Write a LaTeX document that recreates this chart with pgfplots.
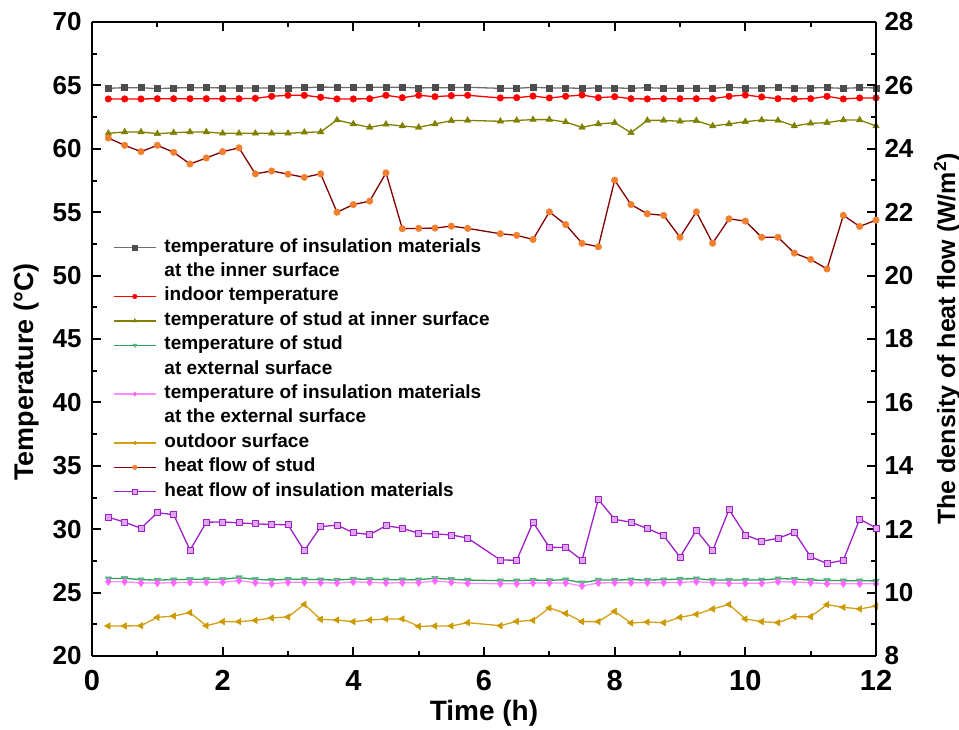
\documentclass[border=0pt]{standalone}
\usepackage{fontspec}
\setmainfont{Liberation Sans}
\usepackage{pgfplots}
\pgfplotsset{compat=1.18}
\usepackage{pgfplotstable}

\definecolor{cGrayL}{HTML}{6E6E6E}
\definecolor{cGrayM}{HTML}{4D4D4D}
\definecolor{cRed}{HTML}{FF0000}
\definecolor{cOlive}{HTML}{808000}
\definecolor{cGreenL}{HTML}{2CA05A}
\definecolor{cGreenM}{HTML}{4DB87A}
\definecolor{cPinkL}{HTML}{FF8CFF}
\definecolor{cPinkM}{HTML}{FF66FF}
\definecolor{cGold}{HTML}{D4A017}
\definecolor{cGoldM}{HTML}{CC9900}
\definecolor{cMaroon}{HTML}{800000}
\definecolor{cOrange}{HTML}{F08030}
\definecolor{cPurple}{HTML}{A020C8}
\definecolor{cPurpleF}{HTML}{DDA8F0}

% t: time (h); temperatures in degC; heat flows in W/m^2
\pgfplotstableread{
t     insin  indoor studin studex insex  outdoor qstud  qins
0.25  64.77  63.93  61.22  26.10  25.86  22.37   24.34  12.38
0.50  64.82  63.93  61.33  26.13  25.86  22.37   24.11  12.22
0.75  64.82  63.93  61.33  26.02  25.76  22.39   23.91  12.03
1.00  64.74  63.95  61.19  25.99  25.76  23.05   24.11  12.52
1.25  64.80  63.95  61.27  26.02  25.78  23.15   23.89  12.46
1.50  64.82  63.95  61.33  26.05  25.81  23.42   23.52  11.34
1.75  64.82  63.95  61.33  26.05  25.81  22.39   23.71  12.22
2.00  64.80  63.95  61.22  26.05  25.81  22.71   23.91  12.23
2.25  64.80  63.95  61.22  26.18  25.94  22.71   24.03  12.20
2.50  64.80  63.98  61.22  26.05  25.78  22.81   23.21  12.17
2.75  64.80  64.14  61.22  25.99  25.70  23.00   23.30  12.15
3.00  64.80  64.22  61.22  26.05  25.81  23.08   23.20  12.14
3.25  64.82  64.22  61.30  26.05  25.81  24.07   23.10  11.32
3.50  64.87  64.06  61.33  26.02  25.78  22.89   23.21  12.08
3.75  64.85  63.93  62.27  25.99  25.76  22.84   22.00  12.13
4.00  64.82  63.93  61.96  26.07  25.84  22.71   22.24  11.89
4.25  64.85  63.95  61.69  26.05  25.81  22.84   22.35  11.83
4.50  64.85  64.22  61.93  26.02  25.76  22.92   23.24  12.11
4.75  64.85  64.03  61.80  26.02  25.78  22.92   21.48  12.03
5.00  64.80  64.22  61.69  26.02  25.78  22.34   21.49  11.87
5.25  64.82  64.11  61.96  26.13  25.92  22.37   21.50  11.85
5.50  64.82  64.19  62.22  26.05  25.81  22.37   21.56  11.82
5.75  64.85  64.22  62.24  25.99  25.73  22.63   21.49  11.72
6.25  64.77  64.01  62.17  25.94  25.70  22.39   21.32  11.03
6.50  64.77  64.03  62.24  25.94  25.70  22.73   21.27  11.02
6.75  64.85  64.16  62.30  25.99  25.76  22.81   21.14  12.22
7.00  64.80  64.01  62.30  25.97  25.76  23.79   22.01  11.43
7.25  64.80  64.14  62.11  26.02  25.76  23.36   21.61  11.42
7.50  64.77  64.24  61.69  25.78  25.52  22.71   21.02  11.02
7.75  64.80  64.03  61.96  25.99  25.76  22.71   20.91  12.94
8.00  64.80  64.11  62.06  25.99  25.78  23.52   23.01  12.31
8.25  64.77  63.95  61.27  26.02  25.78  22.60   22.24  12.22
8.50  64.82  63.93  62.24  25.99  25.78  22.68   21.95  12.02
8.75  64.77  63.95  62.24  26.02  25.78  22.63   21.90  11.80
9.00  64.77  63.95  62.17  26.07  25.81  23.05   21.21  11.12
9.25  64.77  63.95  62.22  26.10  25.86  23.29   22.01  11.97
9.50  64.77  63.95  61.80  25.99  25.78  23.71   21.02  11.32
9.75  64.85  64.14  61.96  25.99  25.73  24.07   21.79  12.62
10.00 64.80  64.24  62.14  25.99  25.73  22.92   21.72  11.82
10.25 64.80  64.09  62.27  25.99  25.73  22.71   21.21  11.62
10.50 64.82  63.95  62.24  26.10  25.86  22.63   21.21  11.71
10.75 64.80  63.93  61.80  26.07  25.84  23.10   20.71  11.91
11.00 64.80  63.95  62.01  25.99  25.78  23.10   20.51  11.13
11.25 64.82  64.14  62.06  25.97  25.70  24.05   20.21  10.92
11.50 64.77  63.93  62.27  25.94  25.70  23.84   21.90  11.02
11.75 64.82  64.01  62.27  25.94  25.70  23.71   21.55  12.32
12.00 64.80  64.01  61.80  25.92  25.70  23.94   21.75  12.04
}\datatable

\pgfplotsset{
  sInsIn/.style={color=cGrayL, line width=1.3pt, mark=square*, mark size=3pt,
    mark options={solid, fill=cGrayM, draw=cGrayM, line width=0.4pt}},
  sIndoor/.style={color=cRed, line width=1.3pt, mark=*, mark size=3.3pt,
    mark options={solid, fill=cRed, draw=cRed, line width=0.4pt}},
  sStudIn/.style={color=cOlive, line width=1.3pt, mark=triangle*, mark size=3.8pt,
    mark options={solid, fill=cOlive, draw=cOlive, line width=0.4pt}},
  sStudEx/.style={color=cGreenL, line width=1.3pt, mark=triangle*, mark size=3.8pt,
    mark options={solid, rotate=180, fill=cGreenM, draw=cGreenM, line width=0.4pt}},
  sInsEx/.style={color=cPinkL, line width=1.3pt, mark=diamond*, mark size=3.8pt,
    mark options={solid, fill=cPinkM, draw=cPinkM, line width=0.4pt}},
  sOut/.style={color=cGold, line width=1.3pt, mark=triangle*, mark size=3.8pt,
    mark options={solid, rotate=90, fill=cGoldM, draw=cGoldM, line width=0.4pt}},
  sQStud/.style={color=cMaroon, line width=1.3pt, mark=*, mark size=3.3pt,
    mark options={solid, fill=cOrange, draw=cOrange, line width=0.4pt}},
  sQIns/.style={color=cPurple, line width=1.3pt, mark=square*, mark size=3pt,
    mark options={solid, fill=cPurpleF, draw=cPurple, line width=0.8pt}},
  frame/.style={
    scale only axis, width=784pt, height=634pt,
    xmin=0, xmax=12,
    separate axis lines,
    axis line style={line width=2.6pt, black},
    tick style={line width=2pt, black},
    major tick length=9pt, minor tick length=5pt,
    tick align=inside,
    /pgf/number format/assume math mode=true,
    tick label style={font=\fontsize{26}{26}\selectfont\bfseries},
  },
}

\begin{document}
\begin{tikzpicture}
\useasboundingbox (-92pt,-73pt) rectangle (867pt,656pt);

% temperatures, left axis
\begin{axis}[frame,
  ymin=20, ymax=70,
  axis x line*=box, axis y line*=left,
  xtick={0,2,...,12}, minor xtick={1,3,...,11},
  xtick pos=both, xticklabel pos=bottom,
  ytick={20,25,...,70}, minor ytick={22.5,27.5,...,67.5},
  ytick pos=left,
  xticklabel style={font=\fontsize{29}{29}\selectfont\bfseries, yshift=-11pt},
  yticklabel style={xshift=-7pt},
  xlabel={Time (h)},
  xlabel style={font=\fontsize{28}{28}\selectfont\bfseries,
    at={([yshift=-57pt]rel axis cs:0.5,0)}, anchor=center},
  ylabel={Temperature (°C)},
  ylabel style={font=\fontsize{27}{27}\selectfont\bfseries,
    at={([xshift=-65pt]rel axis cs:0,0.448)}, anchor=center, rotate=0},
]
\addplot[sInsIn]  table[x=t, y=insin]   {\datatable};
\addplot[sIndoor] table[x=t, y=indoor]  {\datatable};
\addplot[sStudIn] table[x=t, y=studin]  {\datatable};
\addplot[sStudEx] table[x=t, y=studex]  {\datatable};
\addplot[sInsEx]  table[x=t, y=insex]   {\datatable};
\addplot[sOut]    table[x=t, y=outdoor] {\datatable};
\end{axis}

% heat flow density, right axis
\begin{axis}[frame,
  ymin=8, ymax=28,
  axis x line=none, axis y line*=right,
  ytick={8,10,...,28}, minor ytick={9,11,...,27},
  ytick pos=right,
  yticklabel style={xshift=5pt},
  ylabel={The density of heat flow (W/m\textsuperscript{2})},
  ylabel style={font=\fontsize{25}{25}\selectfont\bfseries,
    at={([xshift=71pt]rel axis cs:1,0.5)}, anchor=center},
  legend style={at={(0.027,0.659)}, anchor=north west, draw=none, fill=none,
    inner sep=0pt, outer sep=0pt, row sep=5.4pt, column sep=8pt,
    font=\fontsize{19}{19}\selectfont\bfseries,
    nodes={inner sep=0pt, text height=14pt, text depth=5pt, anchor=west}},
  legend cell align=left,
  legend image code/.code={%
    \draw[mark repeat=2, mark phase=2, mark size=2.3pt]
      plot coordinates {(0pt,0pt) (21pt,0pt) (42pt,0pt)};},
]
\addlegendimage{sInsIn}
\addlegendentry{temperature of insulation materials}
\addlegendimage{empty legend}
\addlegendentry{at the inner surface}
\addlegendimage{sIndoor}
\addlegendentry{indoor temperature}
\addlegendimage{sStudIn}
\addlegendentry{temperature of stud at inner surface}
\addlegendimage{sStudEx}
\addlegendentry{temperature of stud}
\addlegendimage{empty legend}
\addlegendentry{at external surface}
\addlegendimage{sInsEx}
\addlegendentry{temperature of insulation materials}
\addlegendimage{empty legend}
\addlegendentry{at the external surface}
\addlegendimage{sOut}
\addlegendentry{outdoor surface}
\addplot[sQStud] table[x=t, y=qstud] {\datatable};
\addlegendentry{heat flow of stud}
\addplot[sQIns]  table[x=t, y=qins]  {\datatable};
\addlegendentry{heat flow of insulation materials}
\end{axis}
\end{tikzpicture}
\end{document}
